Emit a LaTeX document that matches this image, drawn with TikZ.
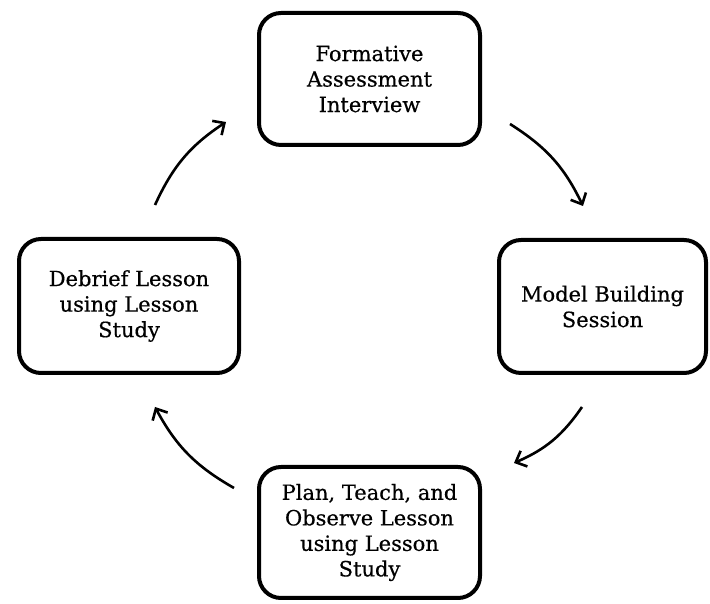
\documentclass[tikz,border=0pt]{standalone}
\usepackage{fontspec}
\setmainfont{DejaVu Serif}[BoldFont={DejaVu Serif}, BoldFeatures={FakeBold=0.5}]
\usetikzlibrary{arrows.meta}

\tikzset{
    stage/.style={draw, line width=4pt, rounded corners=22pt, align=center,
        font=\fontsize{21}{25.5}\selectfont\bfseries, inner sep=0pt},
    cycle/.style={line width=2.6pt, -{Straight Barb[length=9pt,width=17pt]}, bend left=16}
}

\begin{document}
\begin{tikzpicture}[x=1pt, y=1pt]
            \useasboundingbox (0, 0) rectangle (710, 604);
            \node[stage, minimum width=221pt, minimum height=132pt] (fai) at (369.5, 525) {Formative\\Assessment\\Interview};
            \node[stage, minimum width=207pt, minimum height=133pt] (mbs) at (602.5, 297.5) {Model Building\\Session};
            \node[stage, minimum width=221pt, minimum height=131pt] (pto) at (369.5, 71.5) {Plan, Teach, and\\Observe Lesson\\using Lesson\\Study};
            \node[stage, minimum width=220pt, minimum height=134pt] (dbl) at (129, 298) {Debrief Lesson\\using Lesson\\Study};
            \coordinate (a1) at (510, 480);
            \coordinate (b1) at (583, 398);
            \coordinate (a2) at (582, 197);
            \coordinate (b2) at (514, 141);
            \coordinate (a3) at (234, 116);
            \coordinate (b3) at (155, 197);
            \coordinate (a4) at (155, 399);
            \coordinate (b4) at (226, 482);
            \draw[cycle] (a1) to (b1);
            \draw[cycle] (a2) to (b2);
            \draw[cycle] (a3) to (b3);
            \draw[cycle] (a4) to (b4);
        \end{tikzpicture}
\end{document}
